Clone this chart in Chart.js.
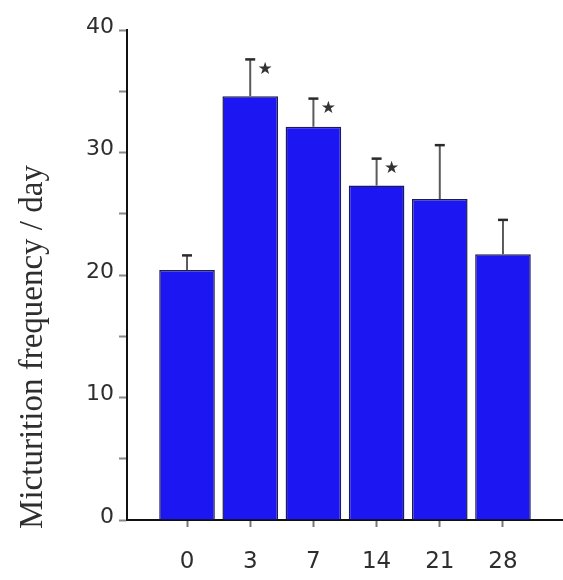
<!DOCTYPE html>
<html>
<head>
<meta charset="utf-8">
<script src="https://cdn.jsdelivr.net/npm/chart.js@4.4.1/dist/chart.umd.min.js"></script>
<style>
  html, body { margin: 0; padding: 0; background: #ffffff; }
  #wrap { width: 563px; height: 580px; position: relative; }
</style>
</head>
<body>
<div id="wrap"><canvas id="c" width="563" height="580"></canvas></div>
<script>
// Days after treatment
const categories = ['0', '3', '7', '14', '21', '28'];
// Mean micturition frequency per day
const means = [20.4, 34.6, 32.1, 27.3, 26.2, 21.7];
// Upper error (SEM)
const errors = [1.2, 3.0, 2.3, 2.2, 4.4, 2.8];
// Significant difference from day 0
const significant = [false, true, true, true, false, false];
// Y axis ticks (labels only on multiples of ten)
const yTicks = [0, 5, 10, 15, 20, 25, 30, 35, 40];

const textColor = '#2e2e2e';

const errorBars = {
  id: 'errorBars',
  afterDatasetsDraw(chart) {
    const ctx = chart.ctx;
    const meta = chart.getDatasetMeta(0);
    const yScale = chart.scales.y;
    ctx.save();
    meta.data.forEach((bar, i) => {
      const x = bar.x;
      const yTop = yScale.getPixelForValue(means[i]);
      const yErr = yScale.getPixelForValue(means[i] + errors[i]);
      ctx.strokeStyle = '#5a5a5a';
      ctx.lineWidth = 2;
      ctx.beginPath();
      ctx.moveTo(x, yTop);
      ctx.lineTo(x, yErr);
      ctx.stroke();
      ctx.strokeStyle = '#2a2a2a';
      ctx.lineWidth = 2.5;
      ctx.beginPath();
      ctx.moveTo(x - 5, yErr);
      ctx.lineTo(x + 5, yErr);
      ctx.stroke();
      if (significant[i]) {
        ctx.fillStyle = '#333333';
        ctx.font = '17px "DejaVu Sans"';
        ctx.textAlign = 'center';
        ctx.textBaseline = 'middle';
        ctx.fillText('\u2605', x + 15, yErr + 10);
      }
    });
    ctx.restore();
  }
};

const yTitle = {
  id: 'yTitle',
  afterDraw(chart) {
    const ctx = chart.ctx;
    ctx.save();
    ctx.translate(42, 347);
    ctx.rotate(-Math.PI / 2);
    ctx.fillStyle = textColor;
    ctx.font = '33px "Liberation Serif"';
    ctx.textAlign = 'center';
    ctx.textBaseline = 'alphabetic';
    ctx.fillText('Micturition frequency / day', 0, 0);
    ctx.restore();
  }
};

new Chart(document.getElementById('c'), {
  type: 'bar',
  data: {
    datasets: [{
      data: means.map((v, i) => ({ x: i, y: v })),
      backgroundColor: '#1c16f2',
      borderColor: '#1b1b55',
      borderWidth: 1.5,
      borderSkipped: 'bottom',
      categoryPercentage: 1.0,
      barPercentage: 0.88
    }]
  },
  options: {
    responsive: false,
    animation: false,
    devicePixelRatio: 1,
    layout: { padding: { left: 0, right: 0, top: 30, bottom: 0 } },
    plugins: { legend: { display: false }, tooltip: { enabled: false } },
    scales: {
      x: {
        type: 'linear',
        offset: false,
        min: -0.95,
        max: 5.95,
        afterBuildTicks(scale) {
          scale.ticks = categories.map((c, i) => ({ value: i }));
        },
        afterFit(scale) { scale.height = 60; },
        ticks: {
          callback: (v) => categories[v],
          color: textColor,
          font: { family: 'DejaVu Sans', size: 23 },
          padding: 21,
          maxRotation: 0,
          autoSkip: false
        },
        grid: {
          offset: false,
          drawOnChartArea: false,
          drawTicks: true,
          tickLength: 7,
          tickWidth: 2,
          tickColor: '#777777'
        },
        border: { display: true, color: '#111111', width: 2 }
      },
      y: {
        min: 0,
        max: 40,
        afterBuildTicks(scale) {
          scale.ticks = yTicks.map(v => ({ value: v }));
        },
        afterFit(scale) { scale.width = 127; },
        ticks: {
          callback: (v) => (v % 10 === 0 ? String(v) : ''),
          color: textColor,
          font: { family: 'DejaVu Sans', size: 22 },
          padding: 5,
          labelOffset: -3
        },
        grid: {
          drawOnChartArea: false,
          drawTicks: true,
          tickLength: 8,
          tickWidth: 2,
          tickColor: '#888888'
        },
        border: { display: true, color: '#111111', width: 2 }
      }
    }
  },
  plugins: [errorBars, yTitle]
});
</script>
</body>
</html>
